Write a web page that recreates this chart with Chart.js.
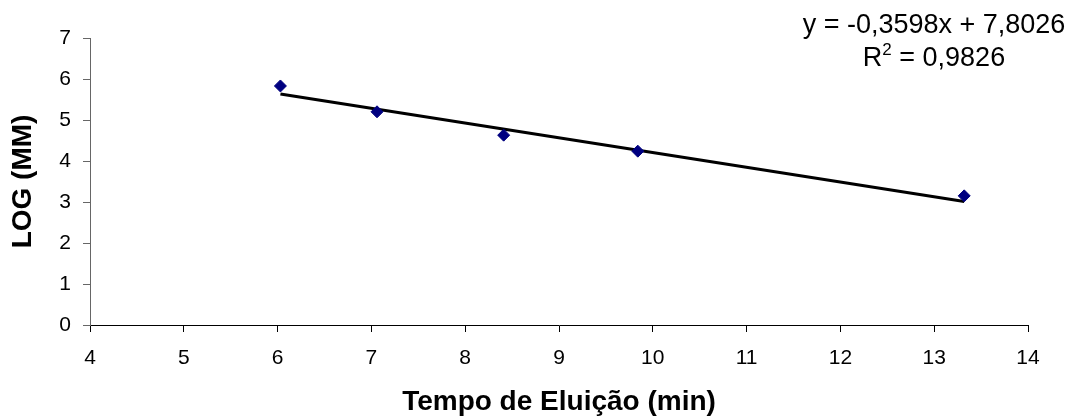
<!DOCTYPE html>
<html>
<head>
<meta charset="utf-8">
<script src="https://cdn.jsdelivr.net/npm/chart.js@4.4.0/dist/chart.umd.min.js"></script>
<style>
html,body{margin:0;padding:0;background:#fff;}
#wrap{width:1073px;height:419px;position:relative;}
</style>
</head>
<body>
<div id="wrap"><canvas id="c" width="1073" height="419"></canvas></div>
<script>
// Data
const elutionTimes = [6.03, 7.06, 8.41, 9.84, 13.32];
const logMM = [5.83, 5.20, 4.63, 4.24, 3.15];
const trendSlope = -0.3598;
const trendIntercept = 7.8026;
const equationLines = ['y = -0,3598x + 7,8026', 'R² = 0,9826'];
const xTitle = 'Tempo de Eluição (min)';
const yTitle = 'LOG (MM)';

const points = elutionTimes.map((x, i) => ({x: x, y: logMM[i]}));
const xMinData = Math.min(...elutionTimes), xMaxData = Math.max(...elutionTimes);
const trend = [xMinData, xMaxData].map(x => ({x: x, y: trendSlope * x + trendIntercept}));

const FONT = "'Liberation Sans', Arial, sans-serif";
const EQ_SIZE = 27;
const SUP_SIZE = 17;

const equationPlugin = {
  id: 'equation',
  afterDraw(chart) {
    const ctx = chart.ctx;
    ctx.save();
    ctx.fillStyle = '#000';
    ctx.textBaseline = 'alphabetic';
    const cx = 934;
    ctx.font = EQ_SIZE + 'px ' + FONT;
    ctx.textAlign = 'center';
    ctx.fillText(equationLines[0], cx, 33);
    const parts = equationLines[1].split('²');
    const w1 = ctx.measureText(parts[0]).width;
    const w2 = ctx.measureText(parts[1]).width;
    ctx.font = SUP_SIZE + 'px ' + FONT;
    const wsup = ctx.measureText('2').width;
    const total = w1 + wsup + w2;
    const x0 = cx - total / 2;
    ctx.textAlign = 'left';
    ctx.font = EQ_SIZE + 'px ' + FONT;
    ctx.fillText(parts[0], x0, 66);
    ctx.font = SUP_SIZE + 'px ' + FONT;
    ctx.fillText('2', x0 + w1, 55);
    ctx.font = EQ_SIZE + 'px ' + FONT;
    ctx.fillText(parts[1], x0 + w1 + wsup, 66);
    ctx.restore();
  }
};

new Chart(document.getElementById('c'), {
  type: 'scatter',
  data: {
    datasets: [
      {
        data: trend,
        showLine: true,
        borderColor: '#000',
        borderWidth: 3,
        pointRadius: 0,
        fill: false,
        order: 2
      },
      {
        data: points,
        pointStyle: 'rectRot',
        pointRadius: 6,
        pointBackgroundColor: '#000080',
        pointBorderColor: '#000080',
        pointBorderWidth: 1,
        order: 1
      }
    ]
  },
  options: {
    responsive: false,
    animation: false,
    devicePixelRatio: 1,
    layout: {padding: {top: 38, right: 45, left: 0, bottom: 0}},
    plugins: {legend: {display: false}, tooltip: {enabled: false}},
    scales: {
      x: {
        type: 'linear',
        min: 4, max: 14,
        afterFit(s) { s.height = 94; },
        ticks: {stepSize: 1, color: '#000', font: {family: FONT, size: 21}, padding: 14},
        grid: {drawOnChartArea: false, drawTicks: true, tickLength: 7, color: '#000'},
        border: {display: true, color: '#000', width: 1},
        title: {display: true, text: xTitle, color: '#000', font: {family: FONT, size: 28, weight: 'bold'}, padding: {top: 0, bottom: 0}}
      },
      y: {
        type: 'linear',
        min: 0, max: 7,
        afterFit(s) { s.width = 90; },
        ticks: {stepSize: 1, color: '#000', font: {family: FONT, size: 21}, padding: 12},
        grid: {drawOnChartArea: false, drawTicks: true, tickLength: 7, color: '#666'},
        border: {display: true, color: '#666', width: 1},
        title: {display: true, text: yTitle, color: '#000', font: {family: FONT, size: 28, weight: 'bold'}, padding: {top: 6, bottom: 0}}
      }
    }
  },
  plugins: [equationPlugin]
});
</script>
</body>
</html>
